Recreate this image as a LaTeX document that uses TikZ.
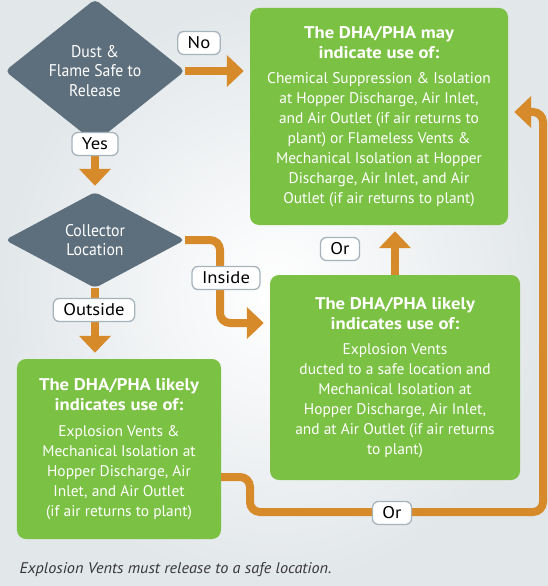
\documentclass[tikz,border=0pt]{standalone}
\usepackage{fontspec}
\setmainfont{PT Sans}
\newfontfamily\bodyfont{PT Sans}
\newfontfamily\diafont[FakeStretch=0.93]{PT Sans}
\newfontfamily\headfont[FakeStretch=1.1]{PT Sans}
\newfontfamily\tagfont[FakeStretch=1.1]{PT Sans}
\newfontfamily\notefont[FakeStretch=1.05]{PT Sans}
\usetikzlibrary{shapes.geometric,arrows.meta}

\definecolor{slate}{RGB}{93,111,124}
\definecolor{leaf}{RGB}{123,193,67}
\definecolor{amber}{RGB}{214,138,42}
\definecolor{tagline}{RGB}{167,179,187}
\definecolor{backdrop}{RGB}{226,231,234}
\definecolor{inktext}{RGB}{55,55,55}

\newcommand\hd[1]{{\headfont\bfseries\fontsize{17}{20}\selectfont #1}}

\tikzset{
  decision/.style={diamond, fill=slate, rounded corners=5bp, minimum width=180bp,
    minimum height=96bp, inner sep=0pt, align=center, text=white,
    font=\diafont\fontsize{17}{19.5}\selectfont},
  outcome/.style={fill=leaf, rounded corners=9bp, align=center, text=white,
    inner sep=0pt, font=\bodyfont\fontsize{15.5}{20}\selectfont},
  flow/.style={draw=amber, line width=8bp, -{Triangle[width=31bp,length=17bp]},
    shorten >=6bp},
  tag/.style={draw=tagline, line width=1.3bp, fill=white, rounded corners=6bp,
    inner xsep=10bp, inner ysep=3bp, minimum height=23bp,
    font=\tagfont\fontsize{17}{17}\selectfont}
}

\begin{document}
\begin{tikzpicture}[x=1bp, y=-1bp]
\useasboundingbox (0,0) rectangle (548,586);
\shade[inner color=white, outer color=backdrop] (0,0) rectangle (548,586);

% Decisions
\node[decision] (safe) at (95,71) {Dust \&\\Flame Safe to\\Release};
\node[decision] (where) at (95,240) {Collector\\Location};

% Outcomes
\node[outcome, minimum width=258bp, minimum height=217bp] (suppress) at (379,116.5) {%
  \hd{The DHA/PHA may}\\\hd{indicate use of:}\\[6bp]
  Chemical Suppression \& Isolation\\at Hopper Discharge, Air Inlet,\\
  and Air Outlet (if air returns to\\plant) or Flameless Vents \&\\
  Mechanical Isolation at Hopper\\Discharge, Air Inlet, and Air\\
  Outlet (if air returns to plant)};
\node[outcome, minimum width=250bp, minimum height=205bp] (ducted) at (395,377.5) {%
  \hd{The DHA/PHA likely}\\\hd{indicates use of:}\\[6bp]
  Explosion Vents\\ducted to a safe location and\\Mechanical Isolation at\\
  Hopper Discharge, Air Inlet,\\and at Air Outlet (if air returns\\to plant)};
\node[outcome, minimum width=204bp, minimum height=180bp] (vents) at (119,449) {%
  \hd{The DHA/PHA likely}\\\hd{indicates use of:}\\[6bp]
  Explosion Vents \&\\Mechanical Isolation at\\Hopper Discharge, Air\\
  Inlet, and Air Outlet\\(if air returns to plant)};

% Bends
\coordinate (inbend) at (220,323);
\coordinate (lowstep) at (250,512);
\coordinate (rightrun) at (543,112);

% Connectors
\draw[flow] (safe.east) -- (safe.east -| suppress.west);
\draw[flow] (safe.south) -- (where.north);
\draw[flow] (where.south) -- (where.south |- vents.north);
\draw[flow, rounded corners=10bp] (where.east) -| (inbend) -- (inbend -| ducted.west);
\draw[flow] (ducted.north) -- (ducted.north |- suppress.south);
\draw[flow, rounded corners=10bp] (vents.east |- 0,477) -| (lowstep) -| (rightrun)
  -- (rightrun -| suppress.east);

% Labels
\node[tag] (no) at (199,43) {No};
\node[tag] (yes) at (95,144) {Yes};
\node[tag] (outside) at (94,310) {Outside};
\node[tag] (inside) at (226,278) {Inside};
\node[tag] (orup) at (340,249) {Or};
\node[tag] (orlow) at (392,513) {Or};

\node[anchor=west, text=inktext, font=\notefont\itshape\fontsize{15.5}{17}\selectfont] (note)
  at (16,570) {Explosion Vents must release to a safe location.};
\end{tikzpicture}
\end{document}
